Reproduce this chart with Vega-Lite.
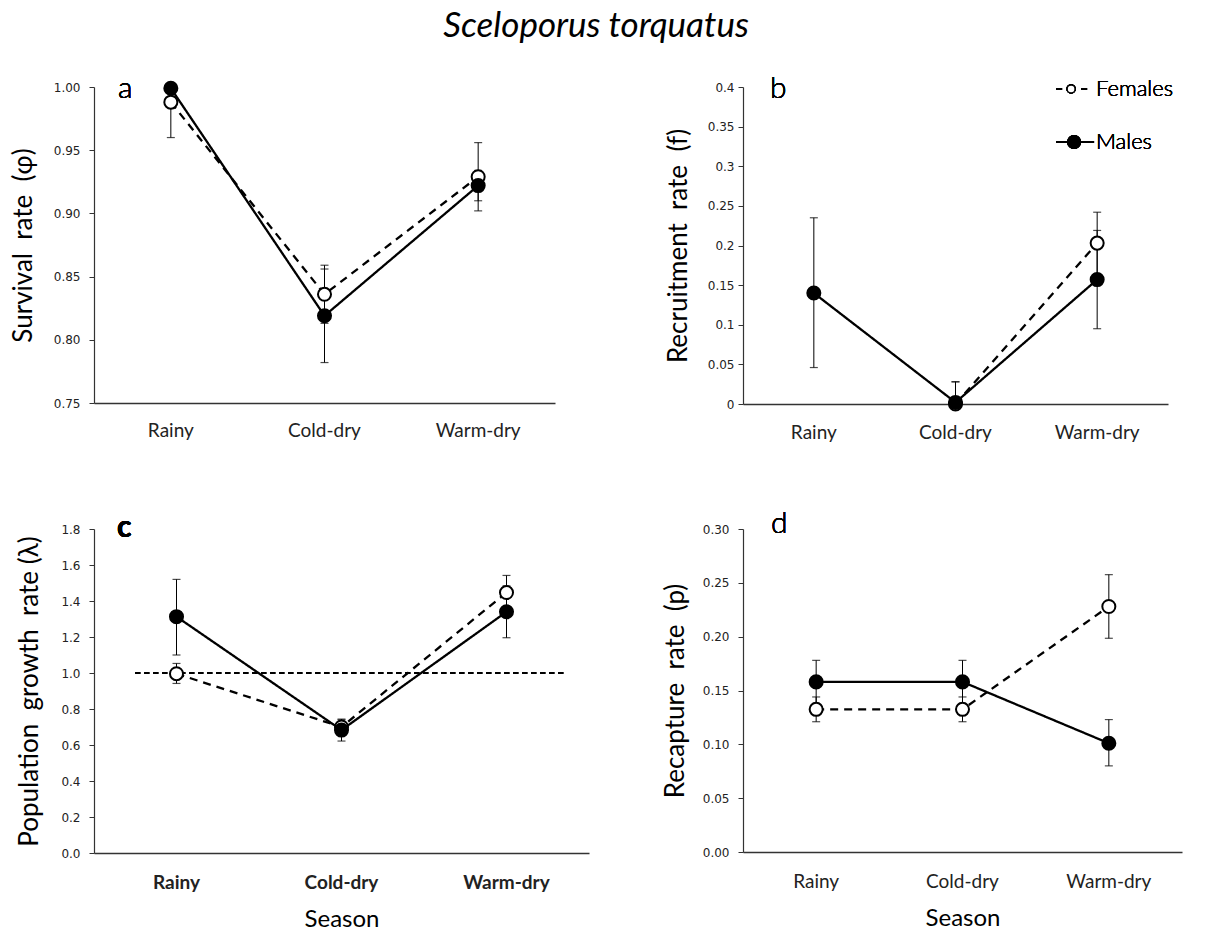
{
  "$schema": "https://vega.github.io/schema/vega-lite/v6.json",
  "padding": {"left": 10, "top": 9, "right": 5, "bottom": 0},
  "title": {"text": "Sceloporus torquatus", "font": "Lato", "fontSize": 35, "fontStyle": "italic", "fontWeight": "normal", "anchor": "middle", "color": "black", "offset": 30},
  "data": {"values": [
    {"panel": "a", "season": "Rainy", "sex": "Females", "value": 0.988, "lo": 0.960, "hi": 0.999},
    {"panel": "a", "season": "Cold-dry", "sex": "Females", "value": 0.836, "lo": 0.813, "hi": 0.859},
    {"panel": "a", "season": "Warm-dry", "sex": "Females", "value": 0.929, "lo": 0.902, "hi": 0.956},
    {"panel": "a", "season": "Rainy", "sex": "Males", "value": 0.999, "lo": 0.999, "hi": 0.999},
    {"panel": "a", "season": "Cold-dry", "sex": "Males", "value": 0.819, "lo": 0.782, "hi": 0.856},
    {"panel": "a", "season": "Warm-dry", "sex": "Males", "value": 0.922, "lo": 0.910, "hi": 0.934},
    {"panel": "b", "season": "Cold-dry", "sex": "Females", "value": 0.0, "lo": 0.0, "hi": 0.028},
    {"panel": "b", "season": "Warm-dry", "sex": "Females", "value": 0.203, "lo": 0.164, "hi": 0.242},
    {"panel": "b", "season": "Rainy", "sex": "Males", "value": 0.140, "lo": 0.046, "hi": 0.235},
    {"panel": "b", "season": "Cold-dry", "sex": "Males", "value": 0.002, "lo": 0.002, "hi": 0.028},
    {"panel": "b", "season": "Warm-dry", "sex": "Males", "value": 0.157, "lo": 0.095, "hi": 0.219},
    {"panel": "c", "season": "Rainy", "sex": "Females", "value": 0.996, "lo": 0.942, "hi": 1.053},
    {"panel": "c", "season": "Cold-dry", "sex": "Females", "value": 0.70, "lo": 0.66, "hi": 0.74},
    {"panel": "c", "season": "Warm-dry", "sex": "Females", "value": 1.447, "lo": 1.352, "hi": 1.542},
    {"panel": "c", "season": "Rainy", "sex": "Males", "value": 1.313, "lo": 1.10, "hi": 1.52},
    {"panel": "c", "season": "Cold-dry", "sex": "Males", "value": 0.683, "lo": 0.622, "hi": 0.744},
    {"panel": "c", "season": "Warm-dry", "sex": "Males", "value": 1.34, "lo": 1.196, "hi": 1.484},
    {"panel": "d", "season": "Rainy", "sex": "Females", "value": 0.1325, "lo": 0.121, "hi": 0.144},
    {"panel": "d", "season": "Cold-dry", "sex": "Females", "value": 0.1325, "lo": 0.121, "hi": 0.144},
    {"panel": "d", "season": "Warm-dry", "sex": "Females", "value": 0.228, "lo": 0.1985, "hi": 0.2576},
    {"panel": "d", "season": "Rainy", "sex": "Males", "value": 0.158, "lo": 0.138, "hi": 0.178},
    {"panel": "d", "season": "Cold-dry", "sex": "Males", "value": 0.158, "lo": 0.138, "hi": 0.178},
    {"panel": "d", "season": "Warm-dry", "sex": "Males", "value": 0.101, "lo": 0.080, "hi": 0.123}
  ]},
  "columns": 2,
  "spacing": {"row": 67, "column": 73},
  "align": "each",
  "resolve": {"scale": {"fill": "independent", "strokeDash": "independent"}, "legend": {"fill": "independent", "strokeDash": "independent"}},
  "concat": [
    {
      "width": 461, "height": 316,
      "transform": [{"filter": "datum.panel === 'a'"}],
      "encoding": {
        "x": {"field": "season", "type": "nominal", "title": null, "scale": {"type": "band", "domain": ["Rainy", "Cold-dry", "Warm-dry"], "paddingInner": 0, "paddingOuter": 0}, "axis": {"labelPadding": 18}}
      },
      "layer": [
        {"mark": {"type": "rule", "color": "black", "strokeWidth": 1},
         "encoding": {"y": {"field": "lo", "type": "quantitative", "title": "Survival\u00a0 rate\u00a0 (φ)", "scale": {"domain": [0.75, 1.0], "zero": false, "nice": false}, "axis": {"values": [0.75, 0.8, 0.85, 0.9, 0.95, 1.0], "tickCount": 20, "labelOverlap": false, "format": ".2f", "labelPadding": 9, "titlePadding": 17}}, "y2": {"field": "hi"}}},
        {"mark": {"type": "tick", "color": "black", "orient": "horizontal", "size": 8, "thickness": 1.2},
         "encoding": {"y": {"field": "lo", "type": "quantitative", "title": "Survival\u00a0 rate\u00a0 (φ)", "scale": {"domain": [0.75, 1.0], "zero": false, "nice": false}, "axis": {"values": [0.75, 0.8, 0.85, 0.9, 0.95, 1.0], "tickCount": 20, "labelOverlap": false, "format": ".2f", "labelPadding": 9, "titlePadding": 17}}}},
        {"mark": {"type": "tick", "color": "black", "orient": "horizontal", "size": 8, "thickness": 1.2},
         "encoding": {"y": {"field": "hi", "type": "quantitative", "title": "Survival\u00a0 rate\u00a0 (φ)", "scale": {"domain": [0.75, 1.0], "zero": false, "nice": false}, "axis": {"values": [0.75, 0.8, 0.85, 0.9, 0.95, 1.0], "tickCount": 20, "labelOverlap": false, "format": ".2f", "labelPadding": 9, "titlePadding": 17}}}},
        {"mark": {"type": "line", "color": "black", "strokeWidth": 2.3},
         "encoding": {"y": {"field": "value", "type": "quantitative", "title": "Survival\u00a0 rate\u00a0 (φ)", "scale": {"domain": [0.75, 1.0], "zero": false, "nice": false}, "axis": {"values": [0.75, 0.8, 0.85, 0.9, 0.95, 1.0], "tickCount": 20, "labelOverlap": false, "format": ".2f", "labelPadding": 9, "titlePadding": 17}},
                      "strokeDash": {"field": "sex", "type": "nominal", "scale": {"domain": ["Females", "Males"], "range": [[8, 6], [1, 0]]}, "legend": null}}},
        {"mark": {"type": "point", "filled": true, "stroke": "black", "strokeWidth": 2, "size": 170, "opacity": 1},
         "encoding": {"y": {"field": "value", "type": "quantitative", "title": "Survival\u00a0 rate\u00a0 (φ)", "scale": {"domain": [0.75, 1.0], "zero": false, "nice": false}, "axis": {"values": [0.75, 0.8, 0.85, 0.9, 0.95, 1.0], "tickCount": 20, "labelOverlap": false, "format": ".2f", "labelPadding": 9, "titlePadding": 17}},
                      "fill": {"field": "sex", "type": "nominal", "scale": {"domain": ["Females", "Males"], "range": ["white", "black"]}, "legend": null}}},
        {"mark": {"type": "text", "text": "a", "font": "Lato", "fontSize": 30, "fontWeight": 300, "align": "left", "baseline": "alphabetic", "dx": 24, "dy": 11, "color": "black"},
         "encoding": {"x": {"datum": "Rainy", "bandPosition": 0}, "y": {"datum": 1.0}}}
      ]
    },
    {
      "width": 425, "height": 317,
      "transform": [{"filter": "datum.panel === 'b'"}],
      "encoding": {
        "x": {"field": "season", "type": "nominal", "title": null, "scale": {"type": "band", "domain": ["Rainy", "Cold-dry", "Warm-dry"], "paddingInner": 0, "paddingOuter": 0}, "axis": {"labelPadding": 19}}
      },
      "layer": [
        {"mark": {"type": "rule", "color": "black", "strokeWidth": 1},
         "encoding": {"y": {"field": "lo", "type": "quantitative", "title": "Recruitment\u00a0 rate\u00a0 (f)", "scale": {"domain": [0, 0.4], "nice": false}, "axis": {"values": [0, 0.05, 0.1, 0.15, 0.2, 0.25, 0.3, 0.35, 0.4], "tickCount": 20, "labelOverlap": false, "format": "~g", "labelPadding": 4, "titlePadding": 16}}, "y2": {"field": "hi"}}},
        {"mark": {"type": "tick", "color": "black", "orient": "horizontal", "size": 8, "thickness": 1.2},
         "encoding": {"y": {"field": "lo", "type": "quantitative", "title": "Recruitment\u00a0 rate\u00a0 (f)", "scale": {"domain": [0, 0.4], "nice": false}, "axis": {"values": [0, 0.05, 0.1, 0.15, 0.2, 0.25, 0.3, 0.35, 0.4], "tickCount": 20, "labelOverlap": false, "format": "~g", "labelPadding": 4, "titlePadding": 16}}}},
        {"mark": {"type": "tick", "color": "black", "orient": "horizontal", "size": 8, "thickness": 1.2},
         "encoding": {"y": {"field": "hi", "type": "quantitative", "title": "Recruitment\u00a0 rate\u00a0 (f)", "scale": {"domain": [0, 0.4], "nice": false}, "axis": {"values": [0, 0.05, 0.1, 0.15, 0.2, 0.25, 0.3, 0.35, 0.4], "tickCount": 20, "labelOverlap": false, "format": "~g", "labelPadding": 4, "titlePadding": 16}}}},
        {"mark": {"type": "line", "color": "black", "strokeWidth": 2.3},
         "encoding": {"y": {"field": "value", "type": "quantitative", "title": "Recruitment\u00a0 rate\u00a0 (f)", "scale": {"domain": [0, 0.4], "nice": false}, "axis": {"values": [0, 0.05, 0.1, 0.15, 0.2, 0.25, 0.3, 0.35, 0.4], "tickCount": 20, "labelOverlap": false, "format": "~g", "labelPadding": 4, "titlePadding": 16}},
                      "strokeDash": {"field": "sex", "type": "nominal", "scale": {"domain": ["Females", "Males"], "range": [[8, 6], [1, 0]]}, "legend": null}}},
        {"mark": {"type": "point", "filled": true, "stroke": "black", "strokeWidth": 2, "size": 170, "opacity": 1},
         "encoding": {"y": {"field": "value", "type": "quantitative", "title": "Recruitment\u00a0 rate\u00a0 (f)", "scale": {"domain": [0, 0.4], "nice": false}, "axis": {"values": [0, 0.05, 0.1, 0.15, 0.2, 0.25, 0.3, 0.35, 0.4], "tickCount": 20, "labelOverlap": false, "format": "~g", "labelPadding": 4, "titlePadding": 16}},
                      "fill": {"field": "sex", "type": "nominal", "scale": {"domain": ["Females", "Males"], "range": ["white", "black"]}, "legend": null}}},
        {"mark": {"type": "text", "text": "b", "font": "Lato", "fontSize": 30, "fontWeight": 300, "align": "left", "baseline": "alphabetic", "dx": 27, "dy": 11, "color": "black"},
         "encoding": {"x": {"datum": "Rainy", "bandPosition": 0}, "y": {"datum": 0.4}}},
        {"mark": {"type": "rule", "color": "black", "strokeWidth": 2, "strokeDash": [6, 19]},
         "encoding": {"x": {"datum": "Warm-dry", "bandPosition": 0.21}, "x2": {"datum": "Warm-dry", "bandPosition": 0.429}, "y": {"datum": 0.3975}}},
        {"mark": {"type": "point", "filled": true, "fill": "white", "stroke": "black", "strokeWidth": 1.5, "size": 64, "opacity": 1},
         "encoding": {"x": {"datum": "Warm-dry", "bandPosition": 0.316}, "y": {"datum": 0.3975}}},
        {"mark": {"type": "text", "text": "Females", "font": "Lato", "fontSize": 22, "fontWeight": 300, "align": "left", "baseline": "middle", "color": "black"},
         "encoding": {"x": {"datum": "Warm-dry", "bandPosition": 0.492}, "y": {"datum": 0.3975}}},
        {"mark": {"type": "rule", "color": "black", "strokeWidth": 2},
         "encoding": {"x": {"datum": "Warm-dry", "bandPosition": 0.21}, "x2": {"datum": "Warm-dry", "bandPosition": 0.478}, "y": {"datum": 0.3306}}},
        {"mark": {"type": "point", "filled": true, "fill": "black", "stroke": "black", "strokeWidth": 1.5, "size": 154, "opacity": 1},
         "encoding": {"x": {"datum": "Warm-dry", "bandPosition": 0.337}, "y": {"datum": 0.3306}}},
        {"mark": {"type": "text", "text": "Males", "font": "Lato", "fontSize": 22, "fontWeight": 300, "align": "left", "baseline": "middle", "color": "black"},
         "encoding": {"x": {"datum": "Warm-dry", "bandPosition": 0.492}, "y": {"datum": 0.3306}}}
      ]
    },
    {
      "width": 495, "height": 324,
      "transform": [{"filter": "datum.panel === 'c'"}],
      "encoding": {
        "x": {"field": "season", "type": "nominal", "title": "Season", "scale": {"type": "band", "domain": ["Rainy", "Cold-dry", "Warm-dry"], "paddingInner": 0, "paddingOuter": 0}, "axis": {"labelPadding": 20, "labelFontWeight": "bold", "titlePadding": 15}}
      },
      "layer": [
        {"mark": {"type": "rule", "color": "black", "strokeWidth": 1},
         "encoding": {"y": {"field": "lo", "type": "quantitative", "title": "Population\u00a0 growth\u00a0 rate (λ)", "scale": {"domain": [0, 1.8], "nice": false}, "axis": {"values": [0, 0.2, 0.4, 0.6, 0.8, 1.0, 1.2, 1.4, 1.6, 1.8], "tickCount": 20, "labelOverlap": false, "format": ".1f", "labelPadding": 9, "titlePadding": 18}}, "y2": {"field": "hi"}}},
        {"mark": {"type": "tick", "color": "black", "orient": "horizontal", "size": 8, "thickness": 1.2},
         "encoding": {"y": {"field": "lo", "type": "quantitative", "title": "Population\u00a0 growth\u00a0 rate (λ)", "scale": {"domain": [0, 1.8], "nice": false}, "axis": {"values": [0, 0.2, 0.4, 0.6, 0.8, 1.0, 1.2, 1.4, 1.6, 1.8], "tickCount": 20, "labelOverlap": false, "format": ".1f", "labelPadding": 9, "titlePadding": 18}}}},
        {"mark": {"type": "tick", "color": "black", "orient": "horizontal", "size": 8, "thickness": 1.2},
         "encoding": {"y": {"field": "hi", "type": "quantitative", "title": "Population\u00a0 growth\u00a0 rate (λ)", "scale": {"domain": [0, 1.8], "nice": false}, "axis": {"values": [0, 0.2, 0.4, 0.6, 0.8, 1.0, 1.2, 1.4, 1.6, 1.8], "tickCount": 20, "labelOverlap": false, "format": ".1f", "labelPadding": 9, "titlePadding": 18}}}},
        {"mark": {"type": "rule", "color": "black", "strokeWidth": 1.3, "strokeDash": [5, 4]},
         "encoding": {"x": {"datum": "Rainy", "bandPosition": 0.25}, "x2": {"datum": "Warm-dry", "bandPosition": 0.85}, "y": {"datum": 1.0, "type": "quantitative", "title": "Population\u00a0 growth\u00a0 rate (λ)", "scale": {"domain": [0, 1.8], "nice": false}, "axis": {"values": [0, 0.2, 0.4, 0.6, 0.8, 1.0, 1.2, 1.4, 1.6, 1.8], "tickCount": 20, "labelOverlap": false, "format": ".1f", "labelPadding": 9, "titlePadding": 18}}}},
        {"mark": {"type": "line", "color": "black", "strokeWidth": 2.3},
         "encoding": {"y": {"field": "value", "type": "quantitative", "title": "Population\u00a0 growth\u00a0 rate (λ)", "scale": {"domain": [0, 1.8], "nice": false}, "axis": {"values": [0, 0.2, 0.4, 0.6, 0.8, 1.0, 1.2, 1.4, 1.6, 1.8], "tickCount": 20, "labelOverlap": false, "format": ".1f", "labelPadding": 9, "titlePadding": 18}},
                      "strokeDash": {"field": "sex", "type": "nominal", "scale": {"domain": ["Females", "Males"], "range": [[8, 6], [1, 0]]}, "legend": null}}},
        {"mark": {"type": "point", "filled": true, "stroke": "black", "strokeWidth": 2, "size": 170, "opacity": 1},
         "encoding": {"y": {"field": "value", "type": "quantitative", "title": "Population\u00a0 growth\u00a0 rate (λ)", "scale": {"domain": [0, 1.8], "nice": false}, "axis": {"values": [0, 0.2, 0.4, 0.6, 0.8, 1.0, 1.2, 1.4, 1.6, 1.8], "tickCount": 20, "labelOverlap": false, "format": ".1f", "labelPadding": 9, "titlePadding": 18}},
                      "fill": {"field": "sex", "type": "nominal", "scale": {"domain": ["Females", "Males"], "range": ["white", "black"]}, "legend": null}}},
        {"mark": {"type": "text", "text": "c", "font": "Lato", "fontSize": 30, "fontWeight": "bold", "align": "left", "baseline": "alphabetic", "dx": 23, "dy": 8, "color": "black"},
         "encoding": {"x": {"datum": "Rainy", "bandPosition": 0}, "y": {"datum": 1.8}}}
      ]
    },
    {
      "width": 439, "height": 323,
      "transform": [{"filter": "datum.panel === 'd'"}],
      "encoding": {
        "x": {"field": "season", "type": "nominal", "title": "Season", "scale": {"type": "band", "domain": ["Rainy", "Cold-dry", "Warm-dry"], "paddingInner": 0, "paddingOuter": 0}, "axis": {"labelPadding": 20, "titlePadding": 15}}
      },
      "layer": [
        {"mark": {"type": "rule", "color": "black", "strokeWidth": 1},
         "encoding": {"y": {"field": "lo", "type": "quantitative", "title": "Recapture\u00a0 rate\u00a0 (p)", "scale": {"domain": [0, 0.3], "nice": false}, "axis": {"values": [0, 0.05, 0.1, 0.15, 0.2, 0.25, 0.3], "tickCount": 20, "labelOverlap": false, "format": ".2f", "labelPadding": 9, "titlePadding": 14}}, "y2": {"field": "hi"}}},
        {"mark": {"type": "tick", "color": "black", "orient": "horizontal", "size": 8, "thickness": 1.2},
         "encoding": {"y": {"field": "lo", "type": "quantitative", "title": "Recapture\u00a0 rate\u00a0 (p)", "scale": {"domain": [0, 0.3], "nice": false}, "axis": {"values": [0, 0.05, 0.1, 0.15, 0.2, 0.25, 0.3], "tickCount": 20, "labelOverlap": false, "format": ".2f", "labelPadding": 9, "titlePadding": 14}}}},
        {"mark": {"type": "tick", "color": "black", "orient": "horizontal", "size": 8, "thickness": 1.2},
         "encoding": {"y": {"field": "hi", "type": "quantitative", "title": "Recapture\u00a0 rate\u00a0 (p)", "scale": {"domain": [0, 0.3], "nice": false}, "axis": {"values": [0, 0.05, 0.1, 0.15, 0.2, 0.25, 0.3], "tickCount": 20, "labelOverlap": false, "format": ".2f", "labelPadding": 9, "titlePadding": 14}}}},
        {"mark": {"type": "line", "color": "black", "strokeWidth": 2.3},
         "encoding": {"y": {"field": "value", "type": "quantitative", "title": "Recapture\u00a0 rate\u00a0 (p)", "scale": {"domain": [0, 0.3], "nice": false}, "axis": {"values": [0, 0.05, 0.1, 0.15, 0.2, 0.25, 0.3], "tickCount": 20, "labelOverlap": false, "format": ".2f", "labelPadding": 9, "titlePadding": 14}},
                      "strokeDash": {"field": "sex", "type": "nominal", "scale": {"domain": ["Females", "Males"], "range": [[8, 6], [1, 0]]}, "legend": null}}},
        {"mark": {"type": "point", "filled": true, "stroke": "black", "strokeWidth": 2, "size": 170, "opacity": 1},
         "encoding": {"y": {"field": "value", "type": "quantitative", "title": "Recapture\u00a0 rate\u00a0 (p)", "scale": {"domain": [0, 0.3], "nice": false}, "axis": {"values": [0, 0.05, 0.1, 0.15, 0.2, 0.25, 0.3], "tickCount": 20, "labelOverlap": false, "format": ".2f", "labelPadding": 9, "titlePadding": 14}},
                      "fill": {"field": "sex", "type": "nominal", "scale": {"domain": ["Females", "Males"], "range": ["white", "black"]}, "legend": null}}},
        {"mark": {"type": "text", "text": "d", "font": "Lato", "fontSize": 30, "fontWeight": 300, "align": "left", "baseline": "alphabetic", "dx": 28, "dy": 4, "color": "black"},
         "encoding": {"x": {"datum": "Rainy", "bandPosition": 0}, "y": {"datum": 0.3}}}
      ]
    }
  ],
  "config": {
    "view": {"stroke": null},
    "axis": {"grid": false, "domainColor": "#333", "tickColor": "#333", "labelFont": "DejaVu Sans", "labelFontSize": 12, "labelColor": "#222", "titleFont": "Lato", "titleFontSize": 26, "titleFontWeight": "normal", "titleColor": "black"},
    "axisX": {"ticks": false, "tickSize": 0, "labelFont": "Lato", "labelFontSize": 19, "labelAngle": 0, "labelColor": "#222", "domainWidth": 1.3, "titleFontSize": 24},
    "axisY": {"tickSize": 5, "domainWidth": 1.2, "labelOverlap": false}
  }
}
